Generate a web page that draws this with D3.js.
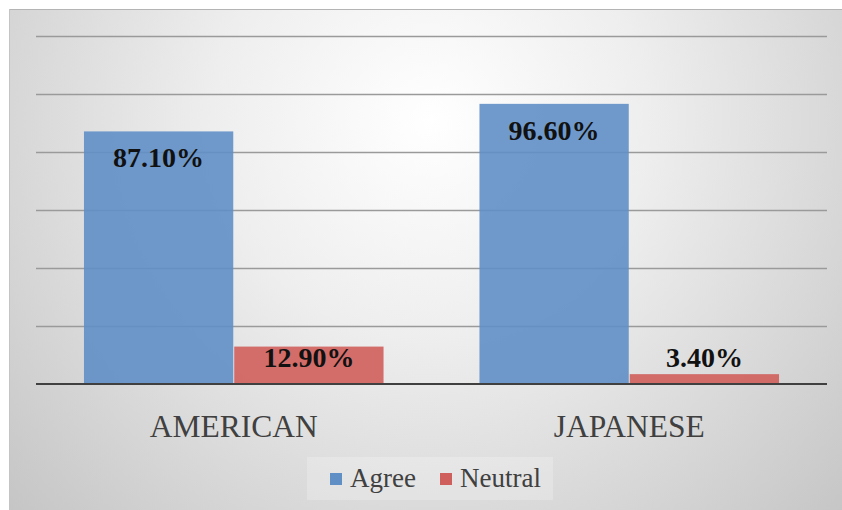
<!DOCTYPE html>
<html>
<head>
<meta charset="utf-8">
<script src="https://cdn.jsdelivr.net/npm/d3@7"></script>
<style>
  html, body { margin: 0; padding: 0; background: #ffffff; }
  svg { display: block; }
</style>
</head>
<body>
<svg id="chart" width="842" height="510"></svg>
<script>
const categories = ["AMERICAN", "JAPANESE"];
const seriesNames = ["Agree", "Neutral"];
const agreeValues = [87.1, 96.6];
const neutralValues = [12.9, 3.4];
const yTicks = [0, 20, 40, 60, 80, 100, 120];
const seriesColors = ["#608fc6", "#cf5f5c"];

// choose an installed serif font
function pickFont() {
  const cands = ["Liberation Serif", "Tinos", "Times New Roman", "DejaVu Serif", "Noto Serif", "FreeSerif", "Nimbus Roman", "Noto Serif CJK SC"];
  const c = document.createElement("canvas").getContext("2d");
  const s = "AMERICAN Agree 87.10% WMwil";
  const base = {};
  ["monospace", "sans-serif"].forEach(b => { c.font = "40px " + b; base[b] = c.measureText(s).width; });
  for (const f of cands) {
    let ok = true;
    for (const b of ["monospace", "sans-serif"]) {
      c.font = `40px "${f}", ${b}`;
      if (Math.abs(c.measureText(s).width - base[b]) < 0.01) { ok = false; break; }
    }
    if (ok) return `"${f}", serif`;
  }
  return "serif";
}
const FONT = pickFont();

const W = 842, H = 510;
const svg = d3.select("#chart");
const defs = svg.append("defs");

const grad = defs.append("radialGradient")
  .attr("id", "bg").attr("gradientUnits", "userSpaceOnUse")
  .attr("cx", 430).attr("cy", 120).attr("r", 620);
grad.append("stop").attr("offset", "0").attr("stop-color", "#ffffff");
grad.append("stop").attr("offset", "0.35").attr("stop-color", "#eeeeee");
grad.append("stop").attr("offset", "1").attr("stop-color", "#c0c0c0");

// frame
svg.append("rect").attr("x", 9).attr("y", 9).attr("width", W - 9).attr("height", H - 9)
  .attr("fill", "url(#bg)");
svg.append("line").attr("x1", 9).attr("x2", W).attr("y1", 9.5).attr("y2", 9.5)
  .attr("stroke", "#b4b4b4").attr("stroke-width", 1);
svg.append("line").attr("x1", 9.5).attr("x2", 9.5).attr("y1", 9).attr("y2", H)
  .attr("stroke", "#c4c4c4").attr("stroke-width", 1);

const plot = { left: 36, right: 827, top: 36, bottom: 384 };

const x0 = d3.scaleBand().domain(categories)
  .range([plot.left, plot.right]).paddingInner(0.24).paddingOuter(0.12);
const x1 = d3.scaleBand().domain(seriesNames).range([0, x0.bandwidth()]).padding(0);
const y = d3.scaleLinear().domain([0, 120]).range([plot.bottom, plot.top]);

// gridlines
const yAxis = d3.axisLeft(y).tickValues(yTicks.filter(t => t > 0))
  .tickSize(-(plot.right - plot.left)).tickFormat("");
const gGrid = svg.append("g").attr("transform", `translate(${plot.left},0)`).call(yAxis);
gGrid.select(".domain").remove();
gGrid.selectAll(".tick line").attr("stroke", "#9a9a9a").attr("stroke-width", 1.5);

const rows = categories.map((c, i) => ({
  category: c,
  values: [
    { series: seriesNames[0], value: agreeValues[i], color: seriesColors[0] },
    { series: seriesNames[1], value: neutralValues[i], color: seriesColors[1] }
  ]
}));

const groups = svg.selectAll("g.grp").data(rows).enter().append("g")
  .attr("class", "grp").attr("transform", d => `translate(${x0(d.category)},0)`);

groups.selectAll("rect").data(d => d.values).enter().append("rect")
  .attr("x", d => x1(d.series) + 0.5)
  .attr("width", x1.bandwidth() - 1)
  .attr("y", d => y(d.value))
  .attr("height", d => y(0) - y(d.value))
  .attr("fill", d => d.color)
  .attr("fill-opacity", 0.9);

const fmt = d3.format(".2f");
groups.selectAll("text.lbl").data(d => d.values).enter().append("text")
  .attr("class", "lbl")
  .attr("x", d => x1(d.series) + x1.bandwidth() / 2)
  .attr("y", d => Math.min(y(d.value) + 36, y(0) - 17))
  .attr("text-anchor", "middle")
  .style("font-family", FONT)
  .style("font-weight", "bold")
  .style("font-size", "28px")
  .attr("fill", "#111111")
  .text(d => fmt(d.value) + "%");

// baseline + category labels
const xAxis = d3.axisBottom(x0).tickSize(0).tickPadding(0);
const gX = svg.append("g").attr("transform", `translate(0,${plot.bottom})`).call(xAxis);
gX.attr("font-family", null).attr("font-size", null);
gX.select(".domain").attr("stroke", "#404040").attr("stroke-width", 2.2)
  .attr("d", `M${plot.left},0H${plot.right}`);
gX.selectAll(".tick text")
  .attr("y", 53).attr("dy", null)
  .style("font-family", FONT)
  .style("font-size", "31.5px")
  .attr("fill", "#404040");

// legend
const legend = svg.append("g");
legend.append("rect").attr("x", 307).attr("y", 457).attr("width", 246).attr("height", 43)
  .attr("fill", "#ffffff").attr("fill-opacity", 0.22);
const legendItems = [
  { name: seriesNames[0], color: seriesColors[0], x: 330 },
  { name: seriesNames[1], color: seriesColors[1], x: 440 }
];
const li = legend.selectAll("g.li").data(legendItems).enter().append("g")
  .attr("transform", d => `translate(${d.x},0)`);
li.append("rect").attr("x", 0).attr("y", 473).attr("width", 12).attr("height", 12)
  .attr("fill", d => d.color);
li.append("text").attr("x", 20).attr("y", 487)
  .style("font-family", FONT)
  .style("font-size", "27px").attr("fill", "#404040")
  .text(d => d.name);
</script>
</body>
</html>
